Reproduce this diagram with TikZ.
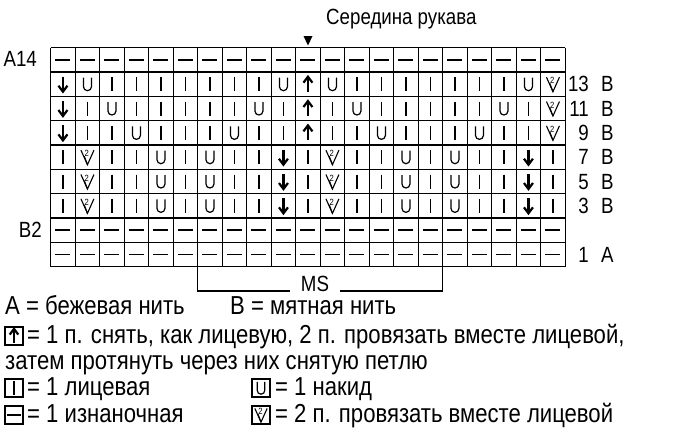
\documentclass[tikz,border=0pt]{standalone}
\usepackage{fontspec}
\setmainfont[FakeStretch=0.85]{Liberation Sans}
\tikzset{
  gridline/.style={line width=1.1pt},
  lbl/.style={font=\fontsize{22}{26}\selectfont, inner sep=0pt},
  leg/.style={font=\fontsize{26}{30}\selectfont, inner sep=0pt, anchor=base west},
  iconbox/.style={line width=1.2pt},
  kP/.pic={\draw[line width=1.5pt] (-7.5,0)--(7.5,0);},
  kI/.pic={\draw[line width=1.5pt] (0,-7)--(0,7);},
  kU/.pic={\draw[line width=1.2pt] (-4,-6.5)--(-4,2.5) arc[start angle=180,end angle=0,radius=4]--(4,-6.5);},
  kD/.pic={\draw[line width=2.2pt] (0,-7.5)--(0,6.5);
           \draw[line width=2.2pt, line join=miter] (-4.5,1.5)--(0,7.5)--(4.5,1.5);},
  kA/.pic={\draw[line width=2.2pt] (0,7.5)--(0,-6.5);
           \draw[line width=2.2pt, line join=miter] (-4.5,-1.5)--(0,-7.5)--(4.5,-1.5);},
  kV/.pic={\draw[line width=1.1pt, line join=miter] (-6.5,-7)--(0,7.5)--(6.5,-7);
           \draw[line width=1.1pt] (-3.2,-1)--(0,7.5);
           \node[inner sep=0pt, font=\fontsize{9}{9}\selectfont] at (-0.6,-3.5) {2};},
}
\begin{document}
\begin{tikzpicture}[x=1pt,y=-1pt]
\useasboundingbox (0,0) rectangle (690,440);
% grid
\foreach \i in {0,...,21} \draw[gridline] ({50.7+\i*24.5},47.7) -- ({50.7+\i*24.5},266.7);
\foreach \j in {0,...,9} \draw[gridline] (50.7,{47.7+\j*24.33}) -- (565.2,{47.7+\j*24.33});
% stitches
\foreach \row [count=\r] in {
 {P,P,P,P,P,P,P,P,P,P,P,P,P,P,P,P,P,P,P,P,P},
 {D,U,I,I,I,I,I,I,I,U,A,U,I,I,I,I,I,I,I,U,V},
 {D,I,U,I,I,I,I,I,U,I,A,I,U,I,I,I,I,I,U,I,V},
 {D,I,I,U,I,I,I,U,I,I,A,I,I,U,I,I,I,U,I,I,V},
 {I,V,I,I,U,I,U,I,I,D,I,V,I,I,U,I,U,I,I,D,I},
 {I,V,I,I,U,I,U,I,I,D,I,V,I,I,U,I,U,I,I,D,I},
 {I,V,I,I,U,I,U,I,I,D,I,V,I,I,U,I,U,I,I,D,I},
 {P,P,P,P,P,P,P,P,P,P,P,P,P,P,P,P,P,P,P,P,P},
 {P,P,P,P,P,P,P,P,P,P,P,P,P,P,P,P,P,P,P,P,P}} {
  \foreach \s [count=\c] in \row {
    \pic at ({50.7+(\c-0.5)*24.5},{47.7+(\r-0.5)*24.33}) {k\s};
  }
}
% title and marker
\node[lbl, anchor=base west] (title) at (326,24) {Середина рукава};
\fill (303.5,36) -- (312.5,36) -- (308,45.5) -- cycle;
% left labels
\node[lbl, anchor=base east] (a14) at (37,66) {А14};
\node[lbl, anchor=base east] (b2) at (42,237.5) {В2};
% right labels
\foreach \n/\l/\r in {13/В/2, 11/В/3, 9/В/4, 7/В/5, 5/В/6, 3/В/7, 1/А/9} {
  \node[lbl, anchor=base east] (num\n) at (589,{47.7+(\r-0.5)*24.33+7.5}) {\n};
  \node[lbl, anchor=base west] (let\n) at (601,{47.7+(\r-0.5)*24.33+7.5}) {\l};
}
% MS bracket
\node[lbl, anchor=base] (ms) at (315,291.5) {MS};
\coordinate (msL) at (197.7,266.7);
\coordinate (msR) at (442.7,266.7);
\draw[line width=1.1pt] (msL) -- (197.7,291) -- (290,291);
\draw[line width=1.1pt] (340,291) -- (442.7,291) -- (msR);
% legend
\node[leg] (la) at (5,314.5) {А = бежевая нить};
\node[leg] (lb) at (230,314.5) {В = мятная нить};
\draw[iconbox] (5,327) rectangle (23,345);
\pic[scale=0.95] at (14,336) {kA};
\node[leg] (l2) at (27,343.5) {= 1 п. снять, как лицевую, 2 п. провязать вместе лицевой,};
\node[leg] (l3) at (5,369) {затем протянуть через них снятую петлю};
\draw[iconbox] (5,379) rectangle (23,397);
\pic[scale=0.95] at (14,388) {kI};
\node[leg] (l4) at (27,395.5) {= 1 лицевая};
\draw[iconbox] (252,379) rectangle (270,397);
\pic[scale=0.95] at (261,388) {kU};
\node[leg] (l4b) at (275,395.5) {= 1 накид};
\draw[iconbox] (5,406) rectangle (23,424);
\pic[scale=0.95] at (14,415) {kP};
\node[leg] (l5) at (27,422.5) {= 1 изнаночная};
\draw[iconbox] (252,406) rectangle (270,424);
\pic[scale=0.95] at (261,415) {kV};
\node[leg] (l5b) at (275,422.5) {= 2 п. провязать вместе лицевой};
\end{tikzpicture}
\end{document}
